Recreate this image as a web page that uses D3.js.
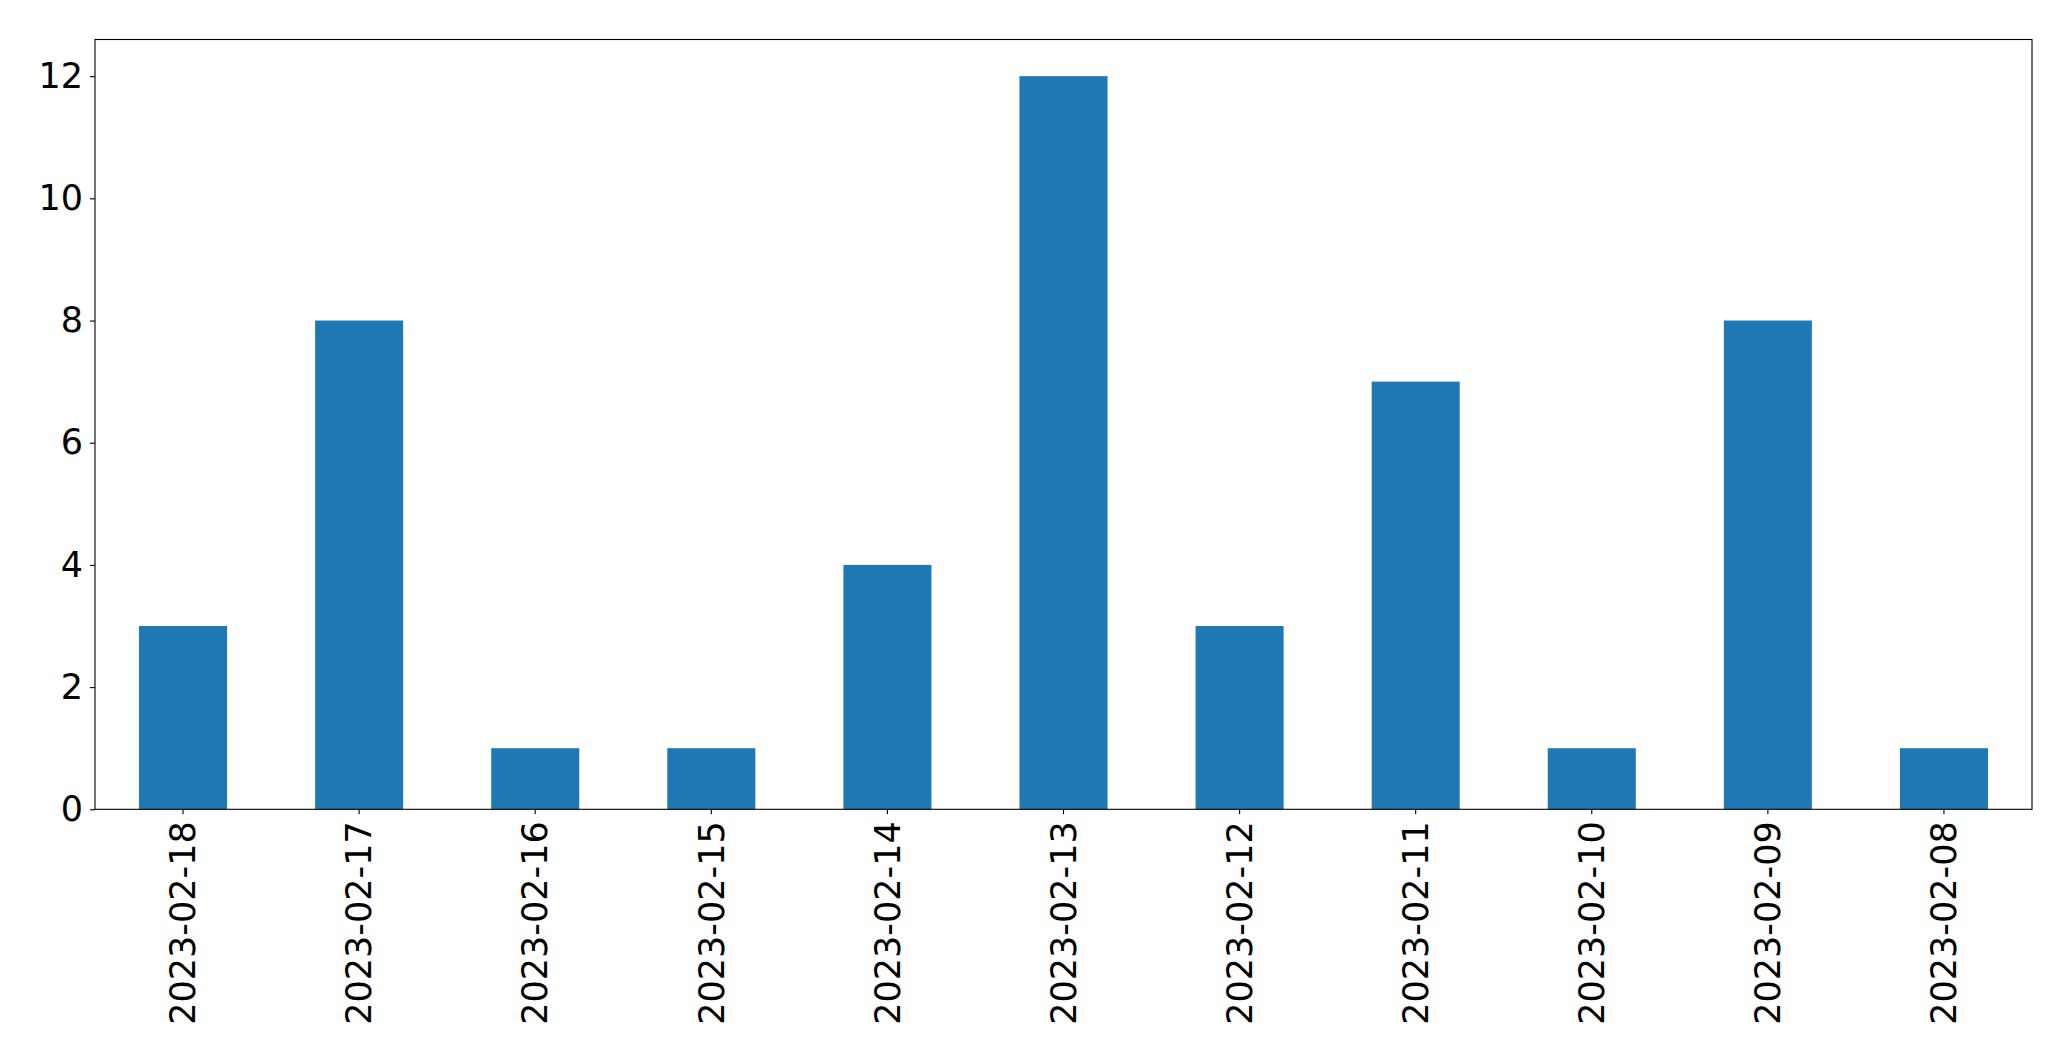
<!DOCTYPE html>
<html><head><meta charset="utf-8">
<script src="https://cdn.jsdelivr.net/npm/d3@7"></script>
<style>body{margin:0;background:#fff}svg{display:block}</style>
</head><body>
<script>
const categories = ["2023-02-18","2023-02-17","2023-02-16","2023-02-15","2023-02-14","2023-02-13","2023-02-12","2023-02-11","2023-02-10","2023-02-09","2023-02-08"];
const values = [3, 8, 1, 1, 4, 12, 3, 7, 1, 8, 1];
const yTicks = [0, 2, 4, 6, 8, 10, 12];

const W = 2071, H = 1061;
const plotLeft = 95, plotRight = 2032, plotTop = 39.5, plotBottom = 809.3;
const svg = d3.select("body").append("svg").attr("width", W).attr("height", H);

const x = d3.scaleBand().domain(categories).range([plotLeft, plotRight]).paddingInner(0.5).paddingOuter(0.25);
const y = d3.scaleLinear().domain([0, 12.6]).range([plotBottom, plotTop]);

svg.append("g").selectAll("rect").data(values).join("rect")
  .attr("x", (d, i) => x(categories[i]))
  .attr("width", x.bandwidth())
  .attr("y", d => y(d))
  .attr("height", d => y(0) - y(d))
  .attr("fill", "#1f77b4");

const font = "DejaVu Sans";
const yAxis = svg.append("g").attr("transform", `translate(${plotLeft},0)`)
  .call(d3.axisLeft(y).tickValues(yTicks).tickSize(5).tickPadding(7).tickFormat(d3.format("d")));
yAxis.select(".domain").remove();
yAxis.selectAll("text").attr("font-family", font).attr("font-size", 35).attr("fill", "#000");
yAxis.selectAll("line").attr("stroke", "#000").attr("stroke-width", 1.1);

const xAxis = svg.append("g").attr("transform", `translate(0,${plotBottom})`)
  .call(d3.axisBottom(x).tickSize(5).tickPadding(7));
xAxis.select(".domain").remove();
xAxis.selectAll("line").attr("stroke", "#000").attr("stroke-width", 1.1);
xAxis.selectAll("text").attr("font-family", font).attr("font-size", 35).attr("fill", "#000")
  .attr("transform", "rotate(-90)")
  .attr("text-anchor", "end")
  .attr("x", -12).attr("y", 0).attr("dy", "0.35em");

svg.append("rect").attr("x", plotLeft).attr("y", plotTop).attr("width", plotRight - plotLeft).attr("height", plotBottom - plotTop)
  .attr("fill", "none").attr("stroke", "#000").attr("stroke-width", 1.1);
</script>
</body></html>
